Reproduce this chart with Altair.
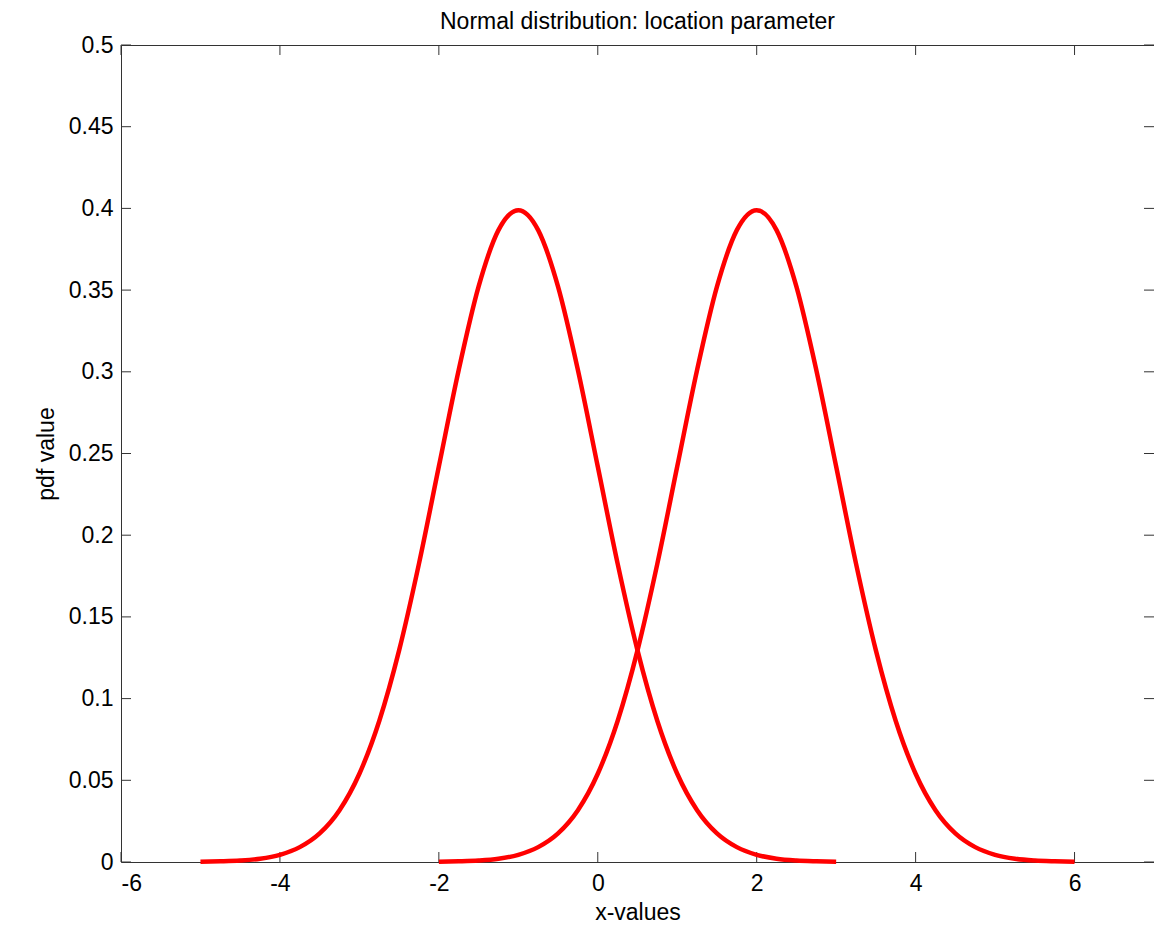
import altair as alt
import pandas as pd

# Curve 1 (location -1)
x1 = [-5.0, -4.75, -4.5, -4.25, -4.0, -3.75, -3.5, -3.25, -3.0, -2.75, -2.5, -2.25, -2.0,
      -1.75, -1.5, -1.25, -1.0, -0.75, -0.5, -0.25, 0.0, 0.25, 0.5, 0.75, 1.0, 1.25, 1.5,
      1.75, 2.0, 2.25, 2.5, 2.75, 3.0]
y1 = [0.0001, 0.0004, 0.0009, 0.0020, 0.0044, 0.0091, 0.0175, 0.0317, 0.0540, 0.0863, 0.1295,
      0.1826, 0.2420, 0.3011, 0.3521, 0.3867, 0.3989, 0.3867, 0.3521, 0.3011, 0.2420, 0.1826,
      0.1295, 0.0863, 0.0540, 0.0317, 0.0175, 0.0091, 0.0044, 0.0020, 0.0009, 0.0004, 0.0001]

# Curve 2 (location 2)
x2 = [-2.0, -1.75, -1.5, -1.25, -1.0, -0.75, -0.5, -0.25, 0.0, 0.25, 0.5, 0.75, 1.0,
      1.25, 1.5, 1.75, 2.0, 2.25, 2.5, 2.75, 3.0, 3.25, 3.5, 3.75, 4.0, 4.25, 4.5,
      4.75, 5.0, 5.25, 5.5, 5.75, 6.0]
y2 = [0.0001, 0.0004, 0.0009, 0.0020, 0.0044, 0.0091, 0.0175, 0.0317, 0.0540, 0.0863, 0.1295,
      0.1826, 0.2420, 0.3011, 0.3521, 0.3867, 0.3989, 0.3867, 0.3521, 0.3011, 0.2420, 0.1826,
      0.1295, 0.0863, 0.0540, 0.0317, 0.0175, 0.0091, 0.0044, 0.0020, 0.0009, 0.0004, 0.0001]

x_ticks = [-6, -4, -2, 0, 2, 4, 6]
y_ticks = [0, 0.05, 0.1, 0.15, 0.2, 0.25, 0.3, 0.35, 0.4, 0.45, 0.5]
title_text = ["Normal distribution: location parameter"]

W, H = 1033, 817
FONT = "Liberation Sans"

df = pd.DataFrame(
    {"x": x1 + x2, "y": y1 + y2, "series": ["mu=-1"] * len(x1) + ["mu=2"] * len(x2)}
)
xt = pd.DataFrame({"v": x_ticks})
yt = pd.DataFrame({"v": y_ticks})
tt = pd.DataFrame({"t": title_text})

xscale = alt.Scale(domain=[-6, 7], nice=False, zero=False)
yscale = alt.Scale(domain=[0, 0.5], nice=False, zero=False)

xaxis = alt.Axis(
    values=x_ticks, labelExpr="'' + datum.value", grid=False, ticks=False, domain=False,
    labelFont=FONT, labelFontSize=23, labelColor="black", labelPadding=10,
    title="x-values", titleFont=FONT, titleFontSize=23, titleFontWeight="normal",
    titleColor="black", titleY=50, titleBaseline="middle",
)
yaxis = alt.Axis(
    values=y_ticks, format=".2~f", grid=False, ticks=False, domain=False,
    labelFont=FONT, labelFontSize=23, labelColor="black", labelPadding=8,
    title="pdf value", titleFont=FONT, titleFontSize=23, titleFontWeight="normal",
    titleColor="black", titleX=-75, titleY=H / 2, titleBaseline="middle", titleAngle=-90,
)

lines = alt.Chart(df).mark_line(color="red", strokeWidth=4.5, interpolate="monotone").encode(
    x=alt.X("x:Q", scale=xscale, axis=xaxis),
    y=alt.Y("y:Q", scale=yscale, axis=yaxis),
    detail="series:N",
)

tick_col = "#333333"
xt_bottom = alt.Chart(xt).mark_rule(color=tick_col, strokeWidth=1).encode(
    x=alt.X("v:Q", scale=xscale), y=alt.value(H), y2=alt.value(H - 10)
)
xt_top = alt.Chart(xt).mark_rule(color=tick_col, strokeWidth=1).encode(
    x=alt.X("v:Q", scale=xscale), y=alt.value(0), y2=alt.value(10)
)
yt_left = alt.Chart(yt).mark_rule(color=tick_col, strokeWidth=1).encode(
    y=alt.Y("v:Q", scale=yscale), x=alt.value(0), x2=alt.value(10)
)
yt_right = alt.Chart(yt).mark_rule(color=tick_col, strokeWidth=1).encode(
    y=alt.Y("v:Q", scale=yscale), x=alt.value(W), x2=alt.value(W - 10)
)
title_mark = alt.Chart(tt).mark_text(
    font=FONT, fontSize=23, color="black", align="center", baseline="alphabetic"
).encode(x=alt.value(W / 2), y=alt.value(-16), text="t:N")

chart = (
    alt.layer(xt_bottom, xt_top, yt_left, yt_right, lines, title_mark)
    .properties(
        width=W,
        height=H,
        autosize="none",
        padding={"left": 113, "top": 37, "right": 0, "bottom": 62},
        background="white",
    )
    .configure_view(stroke="#333333", strokeWidth=1)
)

chart.save("out.html", embed_options={"renderer": "svg", "actions": False})
